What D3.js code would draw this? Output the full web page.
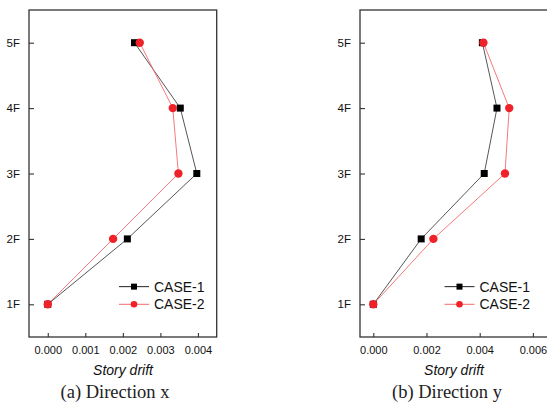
<!DOCTYPE html>
<html>
<head>
<meta charset="utf-8">
<script src="https://cdn.jsdelivr.net/npm/d3@7"></script>
<style>
  html, body { margin: 0; padding: 0; background: #fff; }
  svg { display: block; }
</style>
</head>
<body>
<svg id="chart" width="547" height="403"></svg>
<script>
// Storey levels and inter-storey drift for the two load cases
const storeys = [1, 2, 3, 4, 5];
const storeyLabels = ["1F", "2F", "3F", "4F", "5F"];

const driftX_case1 = [0.0, 0.00212, 0.00397, 0.00353, 0.00231];
const driftX_case2 = [0.0, 0.00174, 0.00348, 0.00333, 0.00245];
const driftY_case1 = [0.0, 0.00180, 0.00417, 0.00465, 0.00410];
const driftY_case2 = [0.0, 0.00226, 0.00495, 0.00511, 0.00414];

const ticksX = [0, 0.001, 0.002, 0.003, 0.004];
const ticksY = [0, 0.002, 0.004, 0.006];

const seriesNames = ["CASE-1", "CASE-2"];

const svg = d3.select("#chart");
const axisFont = "Arial, 'Liberation Sans', sans-serif";
const black = "#000";
const red = "#ee2228";

function panel(opts) {
  const { left, right, top, bottom, domain, ticks, s1, s2, caption, legendX } = opts;
  const g = svg.append("g");
  const x = d3.scaleLinear().domain(domain).range([left, right]);
  const y = d3.scaleLinear().domain([0.5, 5.5]).range([bottom, top]);

  // clip the plot area so the frame can run past the window edge
  const clipId = "clip" + Math.round(left);
  svg.append("clipPath").attr("id", clipId)
    .append("rect").attr("x", left).attr("y", top)
    .attr("width", right - left).attr("height", bottom - top);

  // bottom axis with inward ticks
  const xAxis = d3.axisBottom(x).tickValues(ticks).tickFormat(d3.format(".3f"))
    .tickSizeInner(-4).tickSizeOuter(0).tickPadding(9);
  const gx = g.append("g").attr("transform", `translate(0,${bottom})`).call(xAxis);
  gx.select(".domain").remove();
  gx.selectAll(".tick line").attr("stroke", "#333").attr("stroke-width", 1.1);
  gx.selectAll("text").attr("font-family", axisFont).attr("font-size", 11).attr("fill", "#111");

  // left axis with inward ticks
  const yAxis = d3.axisLeft(y).tickValues(storeys).tickFormat((d, i) => storeyLabels[i])
    .tickSizeInner(-5).tickSizeOuter(0).tickPadding(9);
  const gy = g.append("g").attr("transform", `translate(${left},0)`).call(yAxis);
  gy.select(".domain").remove();
  gy.selectAll(".tick line").attr("stroke", "#333").attr("stroke-width", 1.1);
  gy.selectAll("text").attr("font-family", axisFont).attr("font-size", 11.5).attr("fill", "#111");

  // frame
  g.append("rect").attr("x", left).attr("y", top)
    .attr("width", right - left).attr("height", bottom - top)
    .attr("fill", "none").attr("stroke", "#333").attr("stroke-width", 1.3);

  const plot = g.append("g").attr("clip-path", `url(#${clipId})`);
  const line = d3.line().x(d => x(d[0])).y(d => y(d[1]));
  const pts1 = s1.map((v, i) => [v, storeys[i]]);
  const pts2 = s2.map((v, i) => [v, storeys[i]]);

  plot.append("path").datum(pts1).attr("d", line)
    .attr("fill", "none").attr("stroke", "#444").attr("stroke-width", 0.9);
  plot.append("path").datum(pts2).attr("d", line)
    .attr("fill", "none").attr("stroke", "#f46a6e").attr("stroke-width", 0.9);

  const sq = 7;
  plot.selectAll(".sq").data(pts1).enter().append("rect")
    .attr("x", d => x(d[0]) - sq / 2).attr("y", d => y(d[1]) - sq / 2)
    .attr("width", sq).attr("height", sq).attr("fill", black);
  plot.selectAll(".ci").data(pts2).enter().append("circle")
    .attr("cx", d => x(d[0])).attr("cy", d => y(d[1])).attr("r", 4.2)
    .attr("fill", red);

  // legend
  const ly = [y(1.27), y(1.0)];
  const lg = g.append("g");
  [0, 1].forEach(k => {
    lg.append("line").attr("x1", legendX).attr("x2", legendX + 30)
      .attr("y1", ly[k]).attr("y2", ly[k])
      .attr("stroke", k === 0 ? "#222" : "#f46a6e").attr("stroke-width", 1);
    if (k === 0) {
      lg.append("rect").attr("x", legendX + 15 - 3).attr("y", ly[k] - 3)
        .attr("width", 6).attr("height", 6).attr("fill", black);
    } else {
      lg.append("circle").attr("cx", legendX + 15).attr("cy", ly[k]).attr("r", 3.3).attr("fill", red);
    }
    lg.append("text").attr("x", legendX + 35).attr("y", ly[k] + 5)
      .attr("font-family", axisFont).attr("font-size", 14).attr("fill", "#111")
      .text(seriesNames[k]);
  });

  // axis title and caption
  g.append("text").attr("x", opts.titleX).attr("y", 375)
    .attr("text-anchor", "middle").attr("font-family", axisFont)
    .attr("font-style", "italic").attr("font-size", 14).attr("fill", "#111")
    .text("Story drift");
  g.append("text").attr("x", opts.captionX).attr("y", 398)
    .attr("text-anchor", "middle").attr("font-family", "'Liberation Serif', 'DejaVu Serif', serif")
    .attr("font-size", 18.5).attr("fill", "#222")
    .text(caption);
}

panel({
  left: 29, right: 216.7, top: 10, bottom: 337,
  domain: [-0.0005, 0.0045], ticks: ticksX,
  s1: driftX_case1, s2: driftX_case2,
  caption: "(a) Direction x", captionX: 115, titleX: 123, legendX: 119
});

panel({
  left: 360, right: 559.5, top: 10, bottom: 337,
  domain: [-0.0005, 0.007], ticks: ticksY,
  s1: driftY_case1, s2: driftY_case2,
  caption: "(b) Direction y", captionX: 447, titleX: 454, legendX: 444.5
});
</script>
</body>
</html>
